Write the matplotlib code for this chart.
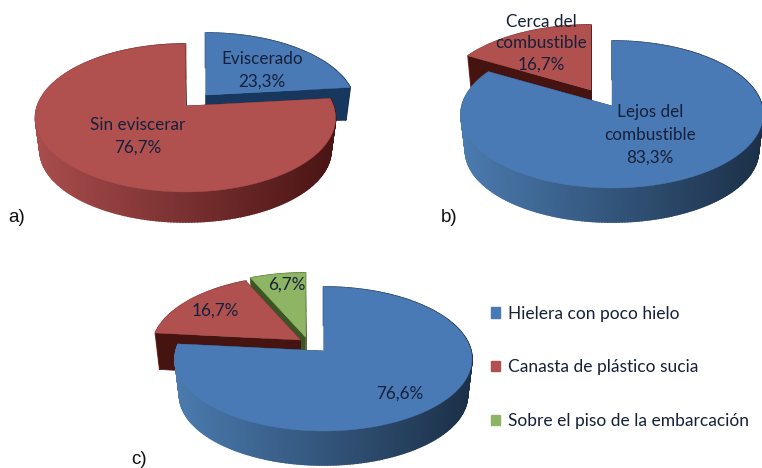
import numpy as np
import matplotlib
matplotlib.use("Agg")
import matplotlib.pyplot as plt
from matplotlib.patches import Patch
from matplotlib.colors import to_rgb

# data
values_a = [23.3, 76.7]
names_a = ["Eviscerado", "Sin eviscerar"]
values_b = [83.3, 16.7]
names_b = ["Lejos del\ncombustible", "Cerca del\ncombustible"]
values_c = [76.6, 16.7, 6.7]
names_c = ["Hielera con poco hielo", "Canasta de plástico sucia", "Sobre el piso de la embarcación"]
labels_a = ["Eviscerado\n23,3%", "Sin eviscerar\n76,7%"]
labels_b = ["Lejos del\ncombustible\n83,3%", "Cerca del\ncombustible\n16,7%"]
labels_c = ["76,6%", "16,7%", "6,7%"]

# styles
BLUE = dict(top="#4a7ab5", cut="#17375e", light="#4a7aae", dark="#1c3048")
RED = dict(top="#b05150", cut="#461410", light="#a84c4c", dark="#4a1414")
GREEN = dict(top="#8db563", cut="#3d5524", light="#7a9c50", dark="#3d5524")
TXT = "#16203a"
FONT = "Lato"
FS = 12.3

fig = plt.figure(figsize=(7.62, 4.68), dpi=100)
ax = fig.add_axes([0, 0, 1, 1])
ax.set_xlim(0, 762)
ax.set_ylim(468, 0)
ax.axis("off")


def project(th, g, lower=False):
    """clockwise-from-top angle (rad) to pixel position on a perspective disc"""
    u, v = np.sin(th), np.cos(th)
    s = 1 / (1 + g["k"] * v)
    sc = g["sc"] if lower else 1.0
    y0 = g["y0"] + (g["d"] if lower else 0)
    return g["x0"] + g["B"] * sc * u * s, y0 - g["A"] * sc * v * s


def pie3d(values, styles, offsets, order, g):
    edges = np.cumsum([0] + list(values)) / sum(values) * 2 * np.pi
    for i in order:
        st, (dx, dy) = styles[i], offsets[i]
        n = max(int(np.degrees(edges[i + 1] - edges[i])), 2) + 1
        th = np.linspace(edges[i], edges[i + 1], n)
        xt, yt = project(th, g)
        xb, yb = project(th, g, True)
        xt, xb, yt, yb = xt + dx, xb + dx, yt + dy, yb + dy
        ax0, ay0 = g["x0"] + dx, g["y0"] + dy
        bx0, by0 = ax0, ay0 + g["d"]
        # outer wall with horizontal shading
        c0, c1 = np.array(to_rgb(st["light"])), np.array(to_rgb(st["dark"]))
        left, right = g["x0"] - g["B"], g["x0"] + g["B"]
        for j in range(n - 1):
            f = np.clip(((xt[j] + xt[j + 1]) / 2 - dx - left) / (right - left), 0, 1)
            ax.fill([xt[j], xt[j + 1], xb[j + 1], xb[j]], [yt[j], yt[j + 1], yb[j + 1], yb[j]],
                    color=c0 + (c1 - c0) * f, lw=1.2, zorder=1)
        # cut faces
        for j in (0, -1):
            ax.fill([ax0, xt[j], xb[j], bx0], [ay0, yt[j], yb[j], by0],
                    color=st["cut"], lw=0.4, zorder=1)
        # top face
        ax.fill(np.r_[ax0, xt], np.r_[ay0, yt], color=st["top"], lw=0.3, zorder=1)


geom_a = dict(x0=185.5, y0=106, A=72, B=148, k=0.162, d=32.6, sc=0.97)
geom_b = dict(x0=612, y0=106, A=72.5, B=150, k=0.1156, d=36.5, sc=0.97)
geom_c = dict(x0=323.5, y0=351, A=71.1, B=147.5, k=0.111, d=36.4, sc=0.97)

pie3d(values_a, [BLUE, RED], [(20, -11), (0, 0)], [0, 1], geom_a)
pie3d(values_b, [BLUE, RED], [(0, 0), (-21, -16)], [1, 0], geom_b)
pie3d(values_c, [BLUE, RED, GREEN], [(0, 0), (-23, -11), (-18, -14)], [2, 1, 0], geom_c)

kw = dict(ha="center", va="center", family=FONT, fontsize=FS, color=TXT, linespacing=1.5, zorder=5)
ax.text(262, 70, labels_a[0], **kw)
ax.text(138, 136, labels_a[1], **kw)
ax.text(650, 135, labels_b[0], **kw)
ax.text(541, 43, labels_b[1], linespacing=1.42, **{k: v for k, v in kw.items() if k != "linespacing"})
ax.text(400, 394, labels_c[0], **kw)
ax.text(215, 311, labels_c[1], **kw)
ax.text(287, 285, labels_c[2], **kw)

for s, x, y in (("a)", 8, 218), ("b)", 441, 217), ("c)", 131, 459)):
    ax.text(x, y, s, ha="left", va="center", family="Liberation Sans", fontsize=13.5, color="#111111", zorder=5)

handles = [Patch(color=c["top"]) for c in (BLUE, RED, GREEN)]
ax.legend(handles, names_c, loc="upper left", bbox_to_anchor=(486 / 762, 1 - 300.5 / 468),
          frameon=False, prop=dict(family=FONT, size=12.5), labelcolor=TXT,
          labelspacing=2.17, handlelength=0.52, handleheight=0.52, handletextpad=0.42,
          borderpad=0.3, borderaxespad=0)

fig.savefig("out.png", dpi=100, facecolor="white")
